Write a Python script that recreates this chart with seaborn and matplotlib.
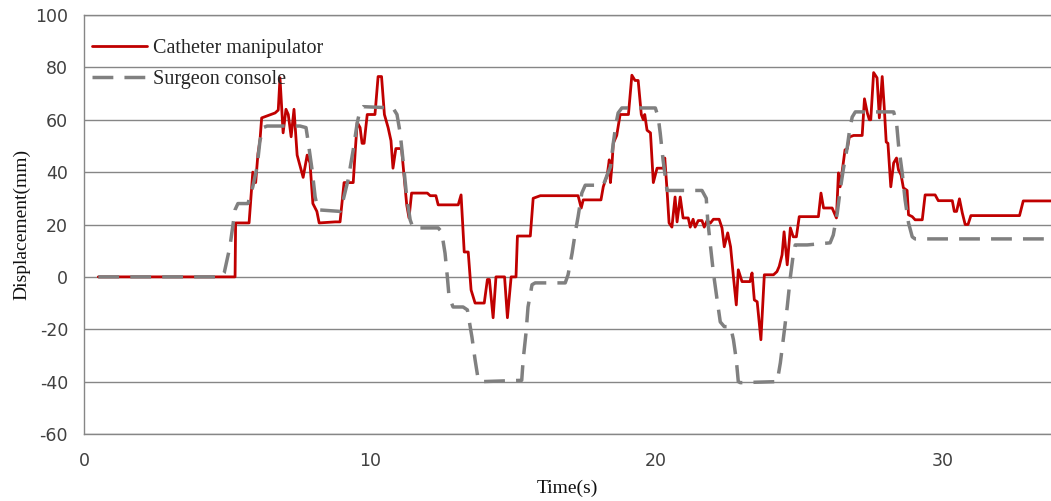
import numpy as np
import pandas as pd
import matplotlib
matplotlib.use("Agg")
import matplotlib.pyplot as plt
from matplotlib.ticker import MultipleLocator
import seaborn as sns

# Catheter manipulator trajectory (time in s, displacement in mm)
cath_t = [0.5, 5.28, 5.3, 5.77, 5.9, 6.0, 6.08, 6.15, 6.21, 6.68, 6.79, 6.85, 6.96,
          7.06, 7.14, 7.24, 7.34, 7.45, 7.66, 7.8, 7.9, 8.0, 8.14, 8.22, 8.78, 8.95,
          9.09, 9.41, 9.48, 9.55, 9.65, 9.72, 9.79, 9.9, 10.17, 10.28, 10.4, 10.5,
          10.63, 10.73, 10.8, 10.9, 11.1, 11.2, 11.28, 11.36, 11.45, 12.0, 12.1,
          12.3, 12.38, 13.08, 13.18, 13.29, 13.43, 13.53, 13.67, 13.99, 14.1, 14.17,
          14.3, 14.4, 14.7, 14.8, 14.93, 15.1, 15.15, 15.6, 15.7, 15.95, 17.27,
          17.38, 17.45, 18.07, 18.15, 18.29, 18.36, 18.4, 18.45, 18.5, 18.62, 18.74,
          19.03, 19.15, 19.26, 19.37, 19.48, 19.55, 19.6, 19.68, 19.8, 19.9, 20.03,
          20.25, 20.3, 20.38, 20.45, 20.55, 20.66, 20.73, 20.84, 20.94, 21.12,
          21.19, 21.29, 21.36, 21.47, 21.6, 21.68, 21.78, 21.89, 22.0, 22.2, 22.3,
          22.38, 22.5, 22.6, 22.7, 22.8, 22.87, 23.0, 23.28, 23.35, 23.43, 23.53,
          23.66, 23.78, 24.1, 24.22, 24.3, 24.4, 24.47, 24.58, 24.69, 24.79, 24.9,
          25.0, 25.67, 25.76, 25.85, 26.15, 26.3, 26.37, 26.43, 26.54, 26.6, 26.68,
          26.75, 26.9, 27.2, 27.28, 27.38, 27.45, 27.5, 27.6, 27.72, 27.8, 27.9,
          27.97, 28.04, 28.1, 28.2, 28.3, 28.4, 28.47, 28.56, 28.64, 28.77, 28.82,
          28.95, 29.05, 29.3, 29.4, 29.75, 29.86, 30.35, 30.42, 30.5, 30.6, 30.7,
          30.8, 30.9, 31.0, 32.7, 32.83, 33.8]
cath_y = [0, 0, 20.6, 20.6, 40, 36, 47, 52, 60.7, 62.6, 63.7, 76, 55,
          64, 62, 53.5, 64, 46.5, 38, 46.5, 43.5, 28, 25, 20.6, 21, 21,
          36, 36, 48, 59, 57, 51, 51, 62, 62, 76.5, 76.5, 62,
          57, 52, 41.5, 49, 49, 37, 27.5, 22.5, 32, 32, 31,
          31, 27.5, 27.5, 31.3, 9.5, 9.5, -5, -10, -10, -1, -1,
          -15.6, 0, 0, -15.6, 0, 0, 15.6, 15.6, 30, 31, 31,
          26.3, 29.4, 29.4, 34.4, 39, 44.7, 36, 42, 51, 54, 62,
          62, 77, 75, 75, 62, 60, 62, 56, 55, 36, 41.5,
          41.5, 45.4, 33, 20.6, 19, 30.5, 21, 30.5, 22.5, 22.5,
          19, 22, 19, 21.5, 21.5, 19, 21.5, 20.5, 22, 22, 18.7,
          11.5, 16.8, 11.5, 0, -10.7, 2.7, -1.8, -1.8, 1.5, -8.8, -9.5,
          -24, 0.8, 0.8, 2, 4, 8.4, 17.2, 4.6, 18.7, 15.3, 15.3,
          23, 23, 32, 26.3, 26.3, 22.5, 39.7, 34.4, 43.5, 48.5, 49,
          53.4, 54, 54, 68, 62.6, 60, 60, 78, 76, 60.7, 76.5,
          65, 51.5, 51, 34.4, 43.5, 45.4, 40.8, 38.9, 34, 33, 23.7,
          23, 21.8, 21.8, 31.3, 31.3, 29.1, 29.1, 25, 25, 29.8, 24.4,
          20, 20, 23.4, 23.4, 29, 29]

# Surgeon console trajectory
surg_t = [0.5, 4.8, 4.9, 5.1, 5.28, 5.38, 5.73, 5.9, 6.05, 6.15, 6.26, 6.4, 7.55,
          7.76, 7.83, 7.97, 8.08, 8.18, 8.95, 9.06, 9.23, 9.41, 9.55, 9.65, 9.76,
          10.8, 10.94, 11.05, 11.15, 11.28, 11.4, 11.5, 12.38, 12.5, 12.62, 12.7,
          12.76, 12.9, 13.25, 13.4, 13.56, 13.67, 13.78, 13.9, 15.3, 15.35, 15.45,
          15.52, 15.66, 15.77, 16.82, 16.92, 17.06, 17.17, 17.27, 17.4, 17.52,
          18.15, 18.29, 18.4, 18.5, 18.6, 18.67, 18.8, 19.97, 20.07, 20.14, 20.24,
          20.3, 20.38, 21.6, 21.75, 21.8, 21.9, 22.0, 22.13, 22.24, 22.38, 22.6,
          22.7, 22.8, 22.87, 22.94, 24.23, 24.34, 24.44, 24.58, 24.69, 24.79,
          24.86, 25.28, 26.08, 26.19, 26.33, 26.43, 26.54, 26.68, 26.75, 26.85,
          26.96, 28.3, 28.4, 28.47, 28.6, 28.7, 28.82, 28.95, 29.05, 33.8]
surg_y = [0, 0, 1.5, 11.5, 25.6, 28, 28, 34.4, 42, 52, 57, 57.6, 57.6,
          57, 52, 41, 30.5, 25.6, 25, 29.4, 37, 48.5, 58.8, 63.7, 65,
          64.5, 62, 55, 44.7, 30.5, 21.8, 18.7, 18.7, 17.2, 9, 0,
          -7.6, -11.5, -11.5, -12.6, -23, -31.7, -39.3, -40, -39.5, -31.7, -21.4,
          -11.5, -3, -2.3, -2.3, 0.8, 9, 16.8, 23, 32, 35,
          35, 39, 42, 51, 58.8, 62.6, 64.5, 64.5, 61, 55, 44.7,
          39.7, 33, 33, 30, 21.8, 11.5, 1.5, -8.8, -17.2, -19, -19,
          -24, -31.7, -40, -40.4, -40, -32.8, -24, -11.5, 0, 8.4,
          12.2, 12.2, 13, 16, 24.4, 33, 41, 49.6, 55.3, 61,
          63, 63, 59, 50.4, 39.7, 29.4, 20.6, 15.3, 14.5, 14.5]

series_names = ["Catheter manipulator", "Surgeon console"]
x_ticks = [0, 10, 20, 30]
y_ticks = [-60, -40, -20, 0, 20, 40, 60, 80, 100]

df = pd.concat([
    pd.DataFrame({"Time": cath_t, "Displacement": cath_y, "Series": series_names[0]}),
    pd.DataFrame({"Time": surg_t, "Displacement": surg_y, "Series": series_names[1]}),
], ignore_index=True)

sns.set_theme(style="white")
plt.rcParams["font.family"] = ["DejaVu Sans"]
plt.rcParams["axes.unicode_minus"] = False

fig = plt.figure(figsize=(10.51, 5.01), dpi=100)
ax = fig.add_axes([84 / 1051, 1 - 434 / 501, 1 - 84 / 1051, (434 - 15) / 501])

grid_col = "#868686"
palette = {series_names[0]: "#C00000", series_names[1]: "#808080"}
dashes = {series_names[0]: "", series_names[1]: (6.0, 3.2)}
sns.lineplot(data=df, x="Time", y="Displacement", hue="Series", style="Series",
             palette=palette, dashes=dashes, estimator=None, sort=False,
             hue_order=series_names, style_order=series_names, ax=ax, legend=False)
lines = ax.get_lines()
lines[0].set_linewidth(2.0)
lines[1].set_linewidth(2.5)
lines[1].set_zorder(3)
lines[0].set_zorder(2)

ax.set_xlim(0, 33.8)
ax.set_ylim(-60, 100)
ax.set_yticks(y_ticks)
ax.set_xticks(x_ticks)
ax.xaxis.set_minor_locator(MultipleLocator(1))
ax.yaxis.grid(True, color=grid_col, linewidth=1.0)
ax.xaxis.grid(False)
for side in ["left", "bottom", "top"]:
    ax.spines[side].set_visible(True)
    ax.spines[side].set_color(grid_col)
    ax.spines[side].set_linewidth(1.0)
ax.spines["right"].set_visible(False)

ax.tick_params(axis="x", which="both", direction="in", length=7, width=1,
               color=grid_col, labelsize=12.5, labelcolor="#404040", pad=13)
ax.tick_params(axis="y", which="both", length=0, labelsize=12.5,
               labelcolor="#404040", pad=11.5)

serif = ["Liberation Serif", "DejaVu Serif"]
ax.set_xlabel("Time(s)", family=serif, fontsize=14, color="#111111", labelpad=7)
ax.set_ylabel("Displacement(mm)", family=serif, fontsize=14, color="#111111", labelpad=3)

ax.legend(lines, series_names, loc="upper left", bbox_to_anchor=(0.008, 0.943),
          frameon=False, borderaxespad=0, borderpad=0, handlelength=2.75,
          handletextpad=0.3, labelspacing=0.6,
          prop={"family": serif, "size": 14.5})

fig.savefig("out.png", dpi=100)
